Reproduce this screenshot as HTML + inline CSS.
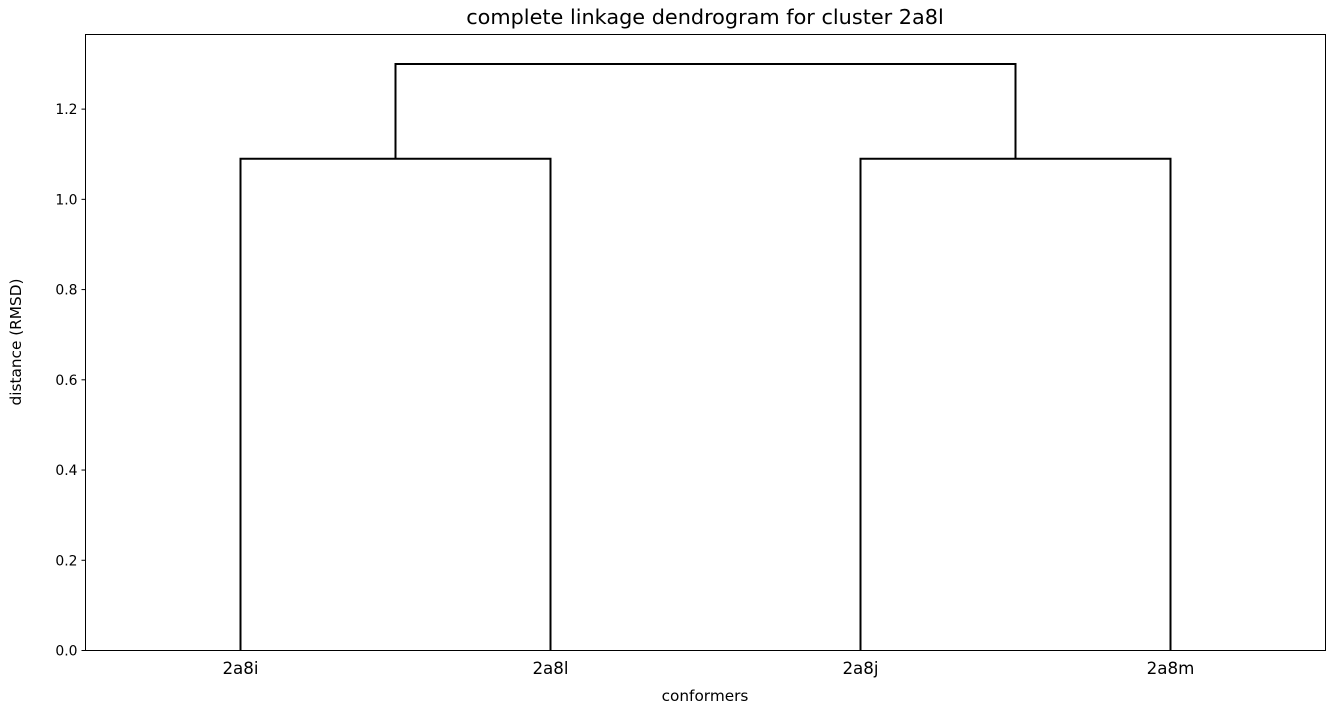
<!DOCTYPE html>
<html><head><meta charset="utf-8"><style>
body{margin:0;background:#fff;}
svg{display:block;font-family:"DejaVu Sans","Liberation Sans",sans-serif;}
</style></head><body>
<svg id="chart" width="1334" height="714">
<text x="705" y="24" font-size="20.8" text-anchor="middle">complete linkage dendrogram for cluster 2a8l</text>
<text x="705" y="701" font-size="15.3" text-anchor="middle">conformers</text>
<text transform="translate(21,342) rotate(-90)" font-size="15.3" text-anchor="middle">distance (RMSD)</text>
<g id="marks"></g>
<rect x="85.5" y="34.5" width="1240" height="616" fill="none" stroke="#000" stroke-width="1"/>
</svg>
<script>
const leafLabels = ["2a8i","2a8l","2a8j","2a8m"];
const yTicks = [0.0,0.2,0.4,0.6,0.8,1.0,1.2];
const mergeHeights = [1.09, 1.09, 1.30];
const mergeLeftX = [5, 25, 10];
const mergeRightX = [15, 35, 30];
const mergeLeftBase = [0, 0, 1.09];
const mergeRightBase = [0, 0, 1.09];

const L=85.5,R=1325.5,T=34,B=650.5;
const xMax=40,yMax=1.3665;
const sx=v=>L+(v/xMax)*(R-L);
const sy=v=>B-(v/yMax)*(B-T);
const NS="http://www.w3.org/2000/svg";
const svg=document.getElementById('chart');
const g=document.getElementById('marks');

yTicks.forEach(t=>{
  const y=sy(t);
  const ln=document.createElementNS(NS,'line');
  ln.setAttribute('x1',L-4);ln.setAttribute('x2',L);ln.setAttribute('y1',y);ln.setAttribute('y2',y);
  ln.setAttribute('stroke','#000');
  
  
  svg.appendChild(ln);
  const tx=document.createElementNS(NS,'text');
  tx.setAttribute('x',L-8);tx.setAttribute('y',y+5);tx.setAttribute('font-size','13.9');tx.setAttribute('text-anchor','end');
  tx.textContent=t.toFixed(1);
  
  
  svg.appendChild(tx);
});

leafLabels.forEach((lab,i)=>{
  const x=sx(5+10*i);
  const tx=document.createElementNS(NS,'text');
  tx.setAttribute('x',x);tx.setAttribute('y',674);tx.setAttribute('font-size','16.7');tx.setAttribute('text-anchor','middle');
  tx.textContent=lab;
  
  
  svg.appendChild(tx);
});

mergeHeights.forEach((h,i)=>{
  const x1=sx(mergeLeftX[i]),x2=sx(mergeRightX[i]);
  const p=document.createElementNS(NS,'polyline');
  p.setAttribute('points',`${x1},${sy(mergeLeftBase[i])} ${x1},${sy(h)} ${x2},${sy(h)} ${x2},${sy(mergeRightBase[i])}`);
  p.setAttribute('fill','none');p.setAttribute('stroke','#000');p.setAttribute('stroke-width','2');
  
  
  g.appendChild(p);
});
</script>
</body></html>
